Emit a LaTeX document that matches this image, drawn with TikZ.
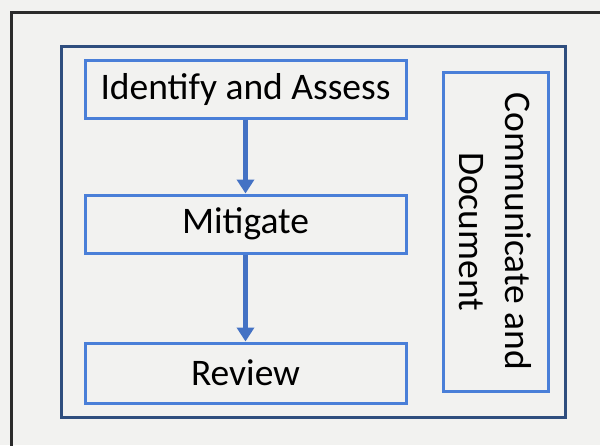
\documentclass[tikz,border=0pt]{standalone}
\usepackage{fontspec}
\setmainfont{Carlito}
\usetikzlibrary{arrows.meta}
\definecolor{bg}{HTML}{F2F2F0}
\definecolor{frameblue}{HTML}{2F4E7E}
\definecolor{boxblue}{HTML}{4A7FD8}
\definecolor{arrowblue}{HTML}{4472C4}
\definecolor{outerline}{HTML}{2B2B2B}
\tikzset{
  stepbox/.style={draw=boxblue, line width=3pt, fill=bg, minimum width=321pt, minimum height=58pt, inner sep=0pt, font=\fontsize{37.5}{40}\selectfont, text=black},
  flow/.style={draw=arrowblue, line width=4.5pt, -{Triangle[length=14pt,width=17pt]}}
}
\begin{document}
\begin{tikzpicture}[x=1pt,y=-1pt]
\useasboundingbox (0,0) rectangle (600,445);
\fill[bg] (0,0) rectangle (600,445);
\draw[outerline, line width=3pt] (11,460) -- (11,12) -- (620,12);
\draw[frameblue, line width=3pt] (61,46) rectangle (565,417);
\node[stepbox] (ia) at (245.5,89) {Identify and Assess};
\node[stepbox] (mi) at (245.5,224) {Mitigate};
\node[stepbox, minimum height=60pt] (re) at (245.5,373) {Review};
\node[draw=boxblue, line width=3pt, fill=bg, minimum width=105pt, minimum height=319pt, inner sep=0pt] (cd) at (495.5,231.5) {};
\node[rotate=-90, align=center, font=\fontsize{37.5}{46}\selectfont] (cdt) at (cd.center) {Communicate and\\Document};
\draw[flow] (ia.south) -- (mi.north);
\draw[flow] (mi.south) -- (re.north);
\end{tikzpicture}
\end{document}
